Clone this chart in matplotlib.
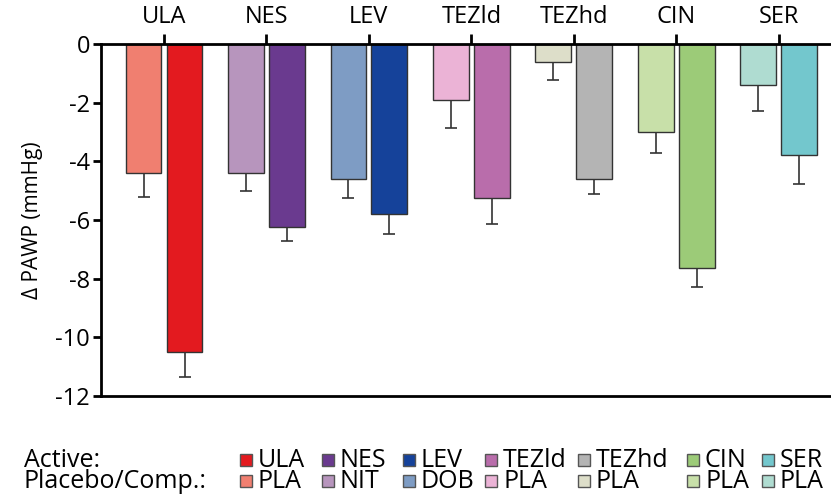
import numpy as np
import matplotlib
matplotlib.use("Agg")
import matplotlib.pyplot as plt
from matplotlib.patches import Rectangle

plt.rcParams["font.family"] = ["Open Sans", "DejaVu Sans"]

groups = ["ULA", "NES", "LEV", "TEZld", "TEZhd", "CIN", "SER"]
active_names = ["ULA", "NES", "LEV", "TEZld", "TEZhd", "CIN", "SER"]
comp_names = ["PLA", "NIT", "DOB", "PLA", "PLA", "PLA", "PLA"]

# mean change and SE (error bars go down only)
comp_mean = [-4.4, -4.4, -4.6, -1.9, -0.6, -3.0, -1.4]
comp_se = [0.8, 0.6, 0.65, 0.98, 0.62, 0.73, 0.88]
active_mean = [-10.5, -6.25, -5.8, -5.25, -4.6, -7.65, -3.8]
active_se = [0.85, 0.45, 0.68, 0.88, 0.53, 0.65, 0.97]

comp_colors = ["#F07F70", "#B795BD", "#7E9CC4", "#EBB3D6", "#DDDEC9", "#C8E0A9", "#AFDCD1"]
active_colors = ["#E31A1F", "#6A3A8F", "#15429A", "#B96DAB", "#B4B4B4", "#9CCB78", "#73C7CD"]

W, H = 831, 495
x = np.arange(len(groups))
w = 0.35
off = 0.2

fig = plt.figure(figsize=(W / 100, H / 100), dpi=100)
ax = fig.add_axes([101 / W, 1 - 396 / H, 1 - 101 / W, (396 - 44) / H])

ax.bar(x - off, comp_mean, w, color=comp_colors, edgecolor="#333333", linewidth=1, zorder=2)
ax.bar(x + off, active_mean, w, color=active_colors, edgecolor="#333333", linewidth=1, zorder=2)
ax.errorbar(x - off, comp_mean, yerr=[comp_se, np.zeros(len(x))], fmt="none",
            ecolor="#333333", elinewidth=1.2, capsize=4.5, capthick=1.2, zorder=1)
ax.errorbar(x + off, active_mean, yerr=[active_se, np.zeros(len(x))], fmt="none",
            ecolor="#333333", elinewidth=1.2, capsize=4.5, capthick=1.2, zorder=1)

ax.set_xlim(-0.615, 6.51)
ax.set_ylim(-12, 0)
ax.set_yticks(range(-12, 1, 2))
ax.set_yticklabels([str(v) for v in range(-12, 1, 2)])
ax.set_xticks(x)
ax.set_xticklabels(groups)
ax.xaxis.tick_top()
ax.tick_params(axis="x", direction="out", length=7.5, width=2, labelsize=17, pad=3)
ax.tick_params(axis="y", direction="out", length=6, width=2, labelsize=17, pad=2)
for s in ["left", "top", "bottom"]:
    ax.spines[s].set_linewidth(2)
ax.spines["right"].set_visible(False)
ax.set_ylabel("Δ PAWP (mmHg)", fontsize=15)
ax.yaxis.set_label_coords(-0.08, 0.5)

# legend drawn by hand: active row over placebo/comparator row
leg_x = [240, 322, 403, 485, 578, 687, 762]
rows = [(467, active_names, active_colors), (488, comp_names, comp_colors)]
for base, names, cols in rows:
    for px, name, col in zip(leg_x, names, cols):
        fig.add_artist(Rectangle((px / W, 1 - (base - 1) / H), 12 / W, 12 / H,
                                 transform=fig.transFigure, facecolor=col,
                                 edgecolor="#555555", linewidth=1))
        fig.text((px + 18) / W, 1 - base / H, name, fontsize=18, va="baseline")
fig.text(24 / W, 1 - 467 / H, "Active:", fontsize=18, va="baseline")
fig.text(24 / W, 1 - 488 / H, "Placebo/Comp.:", fontsize=18, va="baseline")

fig.savefig("out.png", dpi=100)
